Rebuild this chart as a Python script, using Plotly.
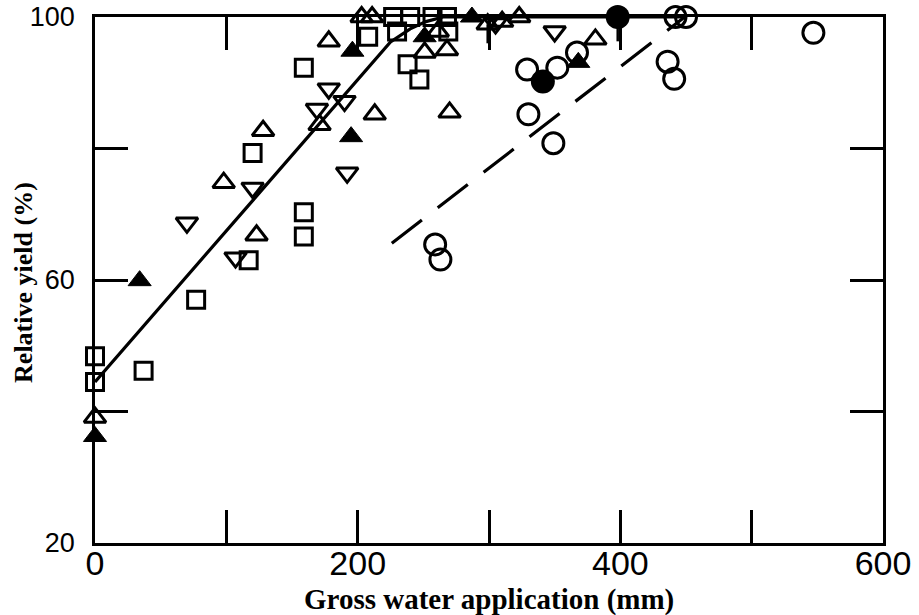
import plotly.graph_objects as go

# ---- data ----
sq_x = [0, 0, 37, 77, 117, 120, 159, 159, 159, 208, 227, 240, 257, 268, 230, 269, 238, 247]
sq_y = [48.4, 44.5, 46.2, 57.0, 63.0, 79.3, 70.3, 66.6, 92.3, 97.0, 100, 100, 100, 100, 97.8, 97.8, 92.8, 90.5]

tri_x = [0, 98, 123, 128, 171, 178, 203, 211, 213, 251, 268, 261, 270, 299, 310, 323, 381]
tri_y = [39.1, 74.8, 66.8, 82.7, 83.6, 96.3, 100, 100, 85.2, 94.6, 95.0, 97.8, 85.5, 98.9, 99.3, 100, 96.6]
tri_stem = [0, 0, 0, 0, 0, 0, 0, 0, 0, 0, 0, 0, 0, 2.9, 0, 0, 0]

ftri_x = [0, 34, 196, 195, 251, 287, 368]
ftri_y = [36.2, 59.9, 94.8, 81.8, 97.0, 100, 93.1]

itri_x = [70, 107, 120, 169, 178, 190, 192, 305, 350]
itri_y = [68.7, 63.4, 74.0, 86.0, 89.1, 87.2, 76.3, 99.0, 97.8]

circ_x = [259, 263, 329, 330, 349, 352, 367, 436, 441, 442, 450, 547]
circ_y = [65.4, 63.1, 92.0, 85.2, 80.8, 92.3, 94.6, 93.2, 90.6, 100, 100, 97.6]

fcirc_x = [341, 398]
fcirc_y = [90.2, 100]
fcirc_stem = [0, 3.7]

fit_x = [0, 225, 240, 252, 265, 450]
fit_y = [44.5, 96.2, 98.2, 99.3, 100, 100]

dash_x = [226, 449]
dash_y = [65.6, 100]

x_ticks = [0, 100, 200, 300, 400, 500, 600]
x_ticktext = ["0", "", "200", "", "400", "", "600"]
y_ticks = [20, 40, 60, 80, 100]
y_ticktext = ["20", "", "60", "", "100"]

x_title = "Gross water application (mm)"
y_title = "Relative yield (%)"

# ---- figure ----
fig = go.Figure()
BLK = "black"
LW = 3

fig.add_trace(go.Scatter(x=fit_x, y=fit_y, mode="lines",
                         line=dict(color=BLK, width=3.2), cliponaxis=False, hoverinfo="skip"))
fig.add_trace(go.Scatter(x=dash_x, y=dash_y, mode="lines",
                         line=dict(color=BLK, width=3.2, dash="38px,20px"), cliponaxis=False, hoverinfo="skip"))

fig.add_trace(go.Scatter(x=sq_x, y=sq_y, mode="markers", cliponaxis=False,
                         marker=dict(symbol="square-open", size=17, color=BLK, line=dict(width=LW, color=BLK))))
fig.add_trace(go.Scatter(x=tri_x, y=tri_y, mode="markers", cliponaxis=False,
                         error_y=dict(type="data", symmetric=False, array=[0]*len(tri_x), arrayminus=tri_stem,
                                      width=0, thickness=2.5, color=BLK),
                         marker=dict(symbol="triangle-up-open", size=19, color=BLK, line=dict(width=LW, color=BLK))))
fig.add_trace(go.Scatter(x=ftri_x, y=ftri_y, mode="markers", cliponaxis=False,
                         marker=dict(symbol="triangle-up", size=20, color=BLK, line=dict(width=1, color=BLK))))
fig.add_trace(go.Scatter(x=itri_x, y=itri_y, mode="markers", cliponaxis=False,
                         marker=dict(symbol="triangle-down-open", size=19, color=BLK, line=dict(width=LW, color=BLK))))
fig.add_trace(go.Scatter(x=circ_x, y=circ_y, mode="markers", cliponaxis=False,
                         marker=dict(symbol="circle-open", size=21, color=BLK, line=dict(width=LW, color=BLK))))
fig.add_trace(go.Scatter(x=fcirc_x, y=fcirc_y, mode="markers", cliponaxis=False,
                         error_y=dict(type="data", symmetric=False, array=[0]*len(fcirc_x), arrayminus=fcirc_stem,
                                      width=0, thickness=2.5, color=BLK),
                         marker=dict(symbol="circle", size=24, color=BLK, line=dict(width=0))))

axis_common = dict(showline=True, linecolor=BLK, linewidth=2.5, mirror="ticks",
                   ticks="inside", ticklen=33, tickwidth=2.5, tickcolor=BLK,
                   showgrid=False, zeroline=False)

fig.update_xaxes(range=[0, 600], tickvals=x_ticks, ticktext=x_ticktext,
                 tickfont=dict(family="Liberation Sans, Arial, sans-serif", size=34, color=BLK),
                 ticklabelstandoff=-12,
                 **axis_common)
fig.update_yaxes(range=[20, 100], tickvals=y_ticks, ticktext=y_ticktext,
                 tickfont=dict(family="Liberation Sans, Arial, sans-serif", size=27, color=BLK),
                 ticklabelstandoff=12,
                 **axis_common)

title_font = dict(family="Liberation Serif, Times New Roman, serif", color=BLK)
fig.add_annotation(text="<b>" + x_title + "</b>", xref="paper", yref="paper",
                   x=0.5, y=-0.107, xanchor="center", yanchor="middle", showarrow=False,
                   font=dict(size=29, **title_font))
fig.add_annotation(text="<b>" + y_title + "</b>", xref="paper", yref="paper",
                   x=-0.091, y=0.495, xanchor="center", yanchor="middle", textangle=-90, showarrow=False,
                   font=dict(size=26, **title_font))

fig.update_layout(width=919, height=615, showlegend=False,
                  margin=dict(l=95, r=36, t=17, b=72, autoexpand=False),
                  paper_bgcolor="white", plot_bgcolor="white")

fig.write_html("out.html")
